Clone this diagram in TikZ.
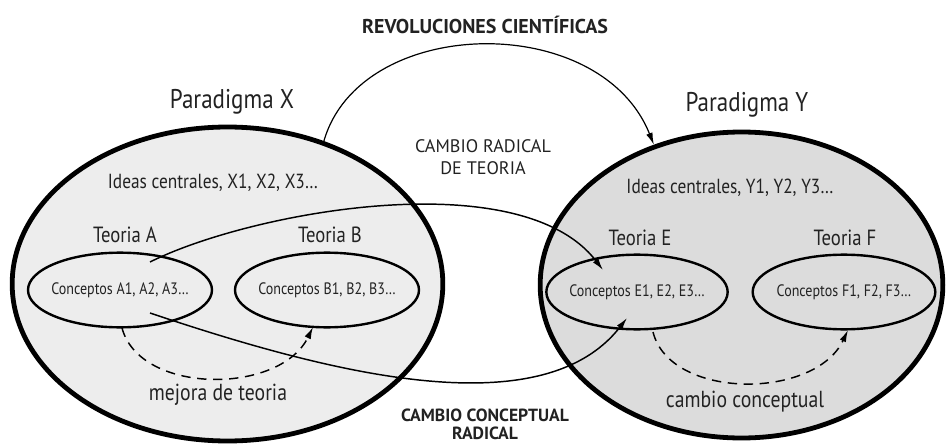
\documentclass[tikz,border=0pt]{standalone}
\usepackage{fontspec}
\setmainfont[FakeStretch=0.85]{PT Sans}
\newfontfamily\capsfont{PT Sans}
\usetikzlibrary{shapes.geometric,arrows.meta}
\definecolor{fillX}{HTML}{EDEDED}
\definecolor{fillY}{HTML}{DCDCDC}
\definecolor{ink}{HTML}{222222}
\begin{document}
\begin{tikzpicture}[x=0.75pt,y=-0.75pt,
  bigell/.style={ellipse,draw=black,line width=3.6pt,inner sep=0pt},
  smallell/.style={ellipse,draw=black,line width=1.8pt,inner sep=0pt,minimum height=56pt},
  lbl/.style={text=ink,inner sep=1pt},
  conn/.style={line width=1.1pt,draw=black,-{Latex[length=9pt,width=5pt]}},
  dconn/.style={line width=1.1pt,draw=black,dash pattern=on 7pt off 5pt,-{Latex[length=9pt,width=5pt]}}]
\useasboundingbox (0,0) rectangle (948,445);
\fill[white] (0,0) rectangle (948,445);
% big ellipses
\node[bigell,fill=fillX,minimum width=323pt,minimum height=235.5pt] (X) at (227.5,284) {};
\node[bigell,fill=fillY,minimum width=302pt,minimum height=229.5pt] (Y) at (741.5,285) {};
% small ellipses
\node[smallell,minimum width=138pt] (A) at (120,290) {};
\node[smallell,minimum width=138pt] (B) at (327,290) {};
\node[smallell,minimum width=136pt] (E) at (637,292) {};
\node[smallell,minimum width=137pt] (F) at (844,292) {};
% texts
\node[lbl,font=\fontsize{20.3}{24}\selectfont] (tX) at (232,102) {Paradigma X};
\node[lbl,font=\fontsize{20.3}{24}\selectfont] (tY) at (747,105) {Paradigma Y};
\node[lbl,font=\fontsize{15.3}{18}\selectfont] (iX) at (213,183) {Ideas centrales, X1, X2, X3…};
\node[lbl,font=\fontsize{15.3}{18}\selectfont] (iY) at (730,188) {Ideas centrales, Y1, Y2, Y3…};
\node[lbl,font=\fontsize{16.5}{19}\selectfont] (tA) at (125,235) {Teoria A};
\node[lbl,font=\fontsize{16.5}{19}\selectfont] (tB) at (330,235) {Teoria B};
\node[lbl,font=\fontsize{16.5}{19}\selectfont] (tE) at (640,238) {Teoria E};
\node[lbl,font=\fontsize{16.5}{19}\selectfont] (tF) at (845,238) {Teoria F};
\node[lbl,font=\fontsize{12.4}{15}\selectfont] (cA) at (120,290) {Conceptos A1, A2, A3…};
\node[lbl,font=\fontsize{12.4}{15}\selectfont] (cB) at (327,290) {Conceptos B1, B2, B3…};
\node[lbl,font=\fontsize{12.4}{15}\selectfont] (cE) at (637,292) {Conceptos E1, E2, E3…};
\node[lbl,font=\fontsize{12.4}{15}\selectfont] (cF) at (844,292) {Conceptos F1, F2, F3…};
\node[lbl,font=\fontsize{17.4}{20}\selectfont] (mX) at (218,395) {mejora de teoria};
\node[lbl,font=\fontsize{17.4}{20}\selectfont] (mY) at (745,402) {cambio conceptual};
\node[lbl,font=\capsfont\bfseries\fontsize{15}{18}\selectfont] (rev) at (485,25) {REVOLUCIONES CIENTÍFICAS};
\node[lbl,font=\capsfont\fontsize{13.6}{16}\selectfont,align=center] (crt) at (483,157) {CAMBIO RADICAL\\DE TEORIA};
\node[lbl,font=\capsfont\bfseries\fontsize{13.2}{13.5}\selectfont,align=center] (ccr) at (485,424) {CAMBIO CONCEPTUAL\\RADICAL};
% connector end points
\coordinate (a1) at (150,262);
\coordinate (a2) at (150,313);
\coordinate (a3) at (122,328);
\coordinate (e1) at (603,270);
\coordinate (e2) at (627,318);
\coordinate (e3) at (653,332);
\coordinate (b1) at (313,327);
\coordinate (f1) at (848,330);
% connectors
\draw[conn,line width=0.9pt] (X.56) .. controls (360,15) and (600,10) .. (Y.122);
\draw[conn] (a1) .. controls (250,212) and (520,162) .. (e1);
\draw[conn] (a2) .. controls (320,370) and (540,430) .. (e2);
\draw[dconn] (a3) .. controls (140,395) and (280,395) .. (b1);
\draw[dconn] (e3) .. controls (670,400) and (815,400) .. (f1);
\end{tikzpicture}
\end{document}
